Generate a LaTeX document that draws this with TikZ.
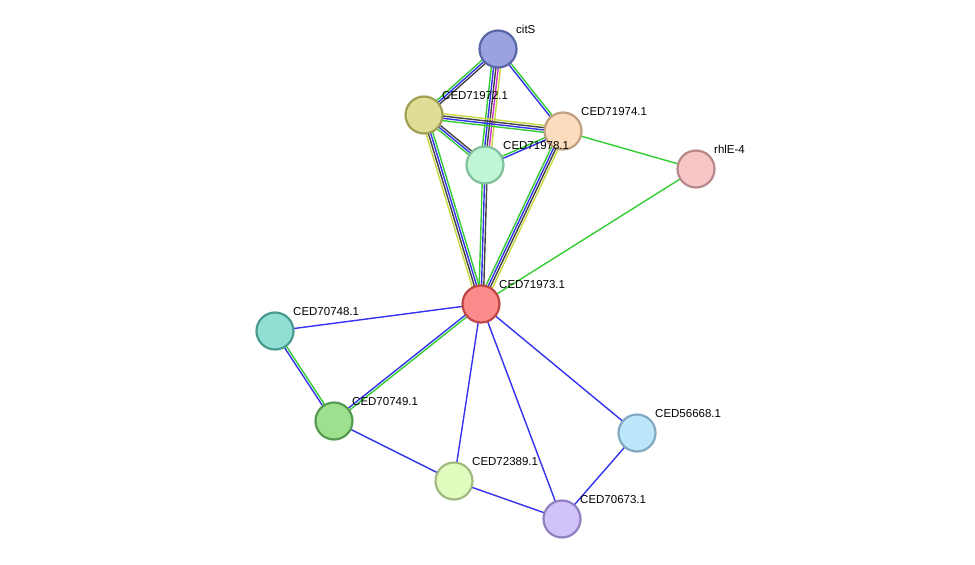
\documentclass[tikz,border=0pt]{standalone}
\usepackage{fontspec}
\setmainfont{Liberation Sans}
\usetikzlibrary{calc,backgrounds}
\definecolor{eg}{HTML}{33CC33}
\definecolor{eb}{HTML}{3333EE}
\definecolor{ek}{HTML}{444444}
\definecolor{ey}{HTML}{C8D840}
\definecolor{em}{HTML}{CC33CC}
\definecolor{f1}{HTML}{9AA3E0}\definecolor{s1}{HTML}{5A66A8}
\definecolor{f2}{HTML}{DEDE96}\definecolor{s2}{HTML}{A0A055}
\definecolor{f3}{HTML}{FCDCBC}\definecolor{s3}{HTML}{C0A080}
\definecolor{f4}{HTML}{BFF7D6}\definecolor{s4}{HTML}{80C09A}
\definecolor{f5}{HTML}{F6C6C6}\definecolor{s5}{HTML}{B88888}
\definecolor{f6}{HTML}{FC8C8C}\definecolor{s6}{HTML}{C04545}
\definecolor{f7}{HTML}{8FE0D3}\definecolor{s7}{HTML}{4A9A90}
\definecolor{f8}{HTML}{9DE08E}\definecolor{s8}{HTML}{559A50}
\definecolor{f9}{HTML}{E2FCC0}\definecolor{s9}{HTML}{A0BA80}
\definecolor{f10}{HTML}{BDE6FA}\definecolor{s10}{HTML}{80A8C0}
\definecolor{f11}{HTML}{D2C2FA}\definecolor{s11}{HTML}{9080C0}
\newcommand\medge[4]{%
  \foreach \c [count=\i] in {#4} {%
    \pgfmathsetmacro\o{(\i-(#3+1)/2)*2.3}%
    \draw[\c,line width=1.4pt] ($(#1)!\o pt!90:(#2)$) -- ($(#2)!\o pt!-90:(#1)$);
  }}
\begin{document}
\begin{tikzpicture}[x=1pt,y=-1pt,
  prot/.style={circle,minimum size=37pt,inner sep=0pt,line width=2.2pt,fill=f#1,draw=s#1},
  lab/.style={font=\fontsize{11.5}{12}\selectfont,anchor=south west,inner sep=1pt}]
\useasboundingbox (0,0) rectangle (975,565);
\node[prot=1] (citS) at (498,49) {};
\node[prot=2] (a72) at (424,115) {};
\node[prot=3] (a74) at (563,131) {};
\node[prot=4] (a78) at (485,165) {};
\node[prot=5] (rhl) at (696,169) {};
\node[prot=6] (a73) at (481,304) {};
\node[prot=7] (b48) at (275,331) {};
\node[prot=8] (b49) at (334,421) {};
\node[prot=9] (c89) at (454,481) {};
\node[prot=10] (d68) at (637,433) {};
\node[prot=11] (e73) at (562,519) {};
\begin{scope}[on background layer]
\medge{citS}{a72}{3}{eg,eb,ek}
\medge{citS}{a78}{5}{eg,eb,ek,em,ey}
\medge{citS}{a74}{2}{eb,eg}
\medge{a72}{a74}{4}{eg,eb,ek,ey}
\medge{a72}{a78}{3}{eg,eb,ek}
\medge{a72}{a73}{4}{ey,ek,eb,eg}
\medge{a78}{a74}{2}{eb,eg}
\medge{a78}{a73}{3}{eg,eb,ek}
\medge{a74}{a73}{4}{eg,eb,ek,ey}
\medge{a74}{rhl}{1}{eg}
\medge{rhl}{a73}{1}{eg}
\medge{a73}{b48}{1}{eb}
\medge{a73}{b49}{2}{eb,eg}
\medge{b48}{b49}{2}{eb,eg}
\medge{b49}{c89}{1}{eb}
\medge{a73}{c89}{1}{eb}
\medge{a73}{e73}{1}{eb}
\medge{a73}{d68}{1}{eb}
\medge{d68}{e73}{1}{eb}
\medge{c89}{e73}{1}{eb}
\end{scope}
\node[lab] (lcitS) at (515,35) {citS};
\node[lab] (l72) at (441,101) {CED71972.1};
\node[lab] (l74) at (580,117) {CED71974.1};
\node[lab] (l78) at (502,151) {CED71978.1};
\node[lab] (lrhl) at (713,155) {rhlE-4};
\node[lab] (l73) at (498,290) {CED71973.1};
\node[lab] (l48) at (292,317) {CED70748.1};
\node[lab] (l49) at (351,407) {CED70749.1};
\node[lab] (l89) at (471,467) {CED72389.1};
\node[lab] (l68) at (654,419) {CED56668.1};
\node[lab] (le73) at (579,505) {CED70673.1};
\end{tikzpicture}
\end{document}
